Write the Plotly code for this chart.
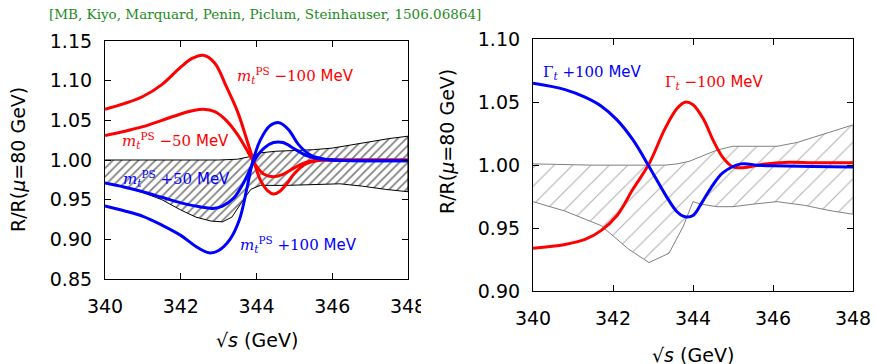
import plotly.graph_objects as go

# ---------------- data: left panel (m_t^PS variations) ----------------
x_red100 = [340, 340.5, 341, 341.5, 342, 342.3, 342.6, 342.9, 343.2, 343.5, 343.8, 343.95, 344.1, 344.3,
            344.45, 344.6, 344.8, 345.0, 345.3, 345.6, 346, 347, 348]
y_red100 = [1.064, 1.071, 1.080, 1.095, 1.117, 1.128, 1.132, 1.122, 1.093, 1.061, 1.017, 0.995, 0.975, 0.961,
            0.957, 0.960, 0.970, 0.983, 0.995, 0.999, 1.000, 1.000, 1.000]

x_red50 = [340, 340.5, 341, 341.5, 342, 342.3, 342.6, 342.9, 343.2, 343.5, 343.8, 344.0, 344.2, 344.45,
           344.7, 345.0, 345.3, 345.6, 346, 347, 348]
y_red50 = [1.031, 1.036, 1.042, 1.050, 1.058, 1.062, 1.064, 1.061, 1.050, 1.032, 1.008, 0.992, 0.982, 0.979,
           0.982, 0.990, 0.997, 1.000, 1.000, 1.000, 1.000]

x_blue50 = [340, 340.5, 341, 341.5, 342, 342.5, 342.85, 343.1, 343.4, 343.7, 343.95, 344.2, 344.45, 344.7,
            345.0, 345.3, 345.6, 346, 347, 348]
y_blue50 = [0.971, 0.966, 0.960, 0.953, 0.946, 0.941, 0.939, 0.942, 0.952, 0.975, 1.000, 1.015, 1.022, 1.022,
            1.014, 1.006, 1.002, 1.000, 0.999, 0.999]

x_blue100 = [340, 340.5, 341, 341.5, 342, 342.4, 342.75, 343.0, 343.3, 343.55, 343.75, 343.9, 344.1, 344.35,
             344.6, 344.85, 345.1, 345.4, 345.7, 346, 347, 348]
y_blue100 = [0.942, 0.936, 0.929, 0.918, 0.905, 0.891, 0.883, 0.886, 0.900, 0.925, 0.965, 0.998, 1.025, 1.043,
             1.047, 1.038, 1.020, 1.007, 1.002, 1.000, 0.999, 0.999]

x_band_l_up = [340, 343.0, 343.5, 343.8, 344.1, 344.5, 345.0, 345.5, 346.0, 346.5, 347.0, 347.5, 348]
y_band_l_up = [1.000, 1.000, 1.001, 1.004, 1.009, 1.011, 1.012, 1.013, 1.015, 1.019, 1.023, 1.027, 1.030]
x_band_l_lo = [340, 340.5, 341, 341.5, 342, 342.4, 342.8, 343.1, 343.35, 343.6, 343.85, 344.1, 344.8, 345.5,
               346.2, 346.8, 347.4, 348]
y_band_l_lo = [0.971, 0.966, 0.959, 0.950, 0.937, 0.928, 0.923, 0.922, 0.928, 0.946, 0.963, 0.968, 0.968, 0.969,
               0.970, 0.967, 0.963, 0.960]

# ---------------- data: right panel (Gamma_t variations) ----------------
x_gplus = [340, 340.8, 341.3, 341.7, 342.1, 342.5, 342.9, 343.3, 343.6, 343.8, 344.0, 344.2, 344.45, 344.75,
           345.2, 345.6, 346, 347, 348]
y_gplus = [1.065, 1.060, 1.054, 1.047, 1.036, 1.020, 0.999, 0.977, 0.963, 0.959, 0.960, 0.969, 0.982, 0.994,
           1.001, 1.000, 0.9995, 0.999, 0.9986]

x_gminus = [340, 340.8, 341.3, 341.7, 342.1, 342.5, 342.9, 343.3, 343.6, 343.8, 344.0, 344.27, 344.5, 344.75,
            345.0, 345.25, 345.75, 346.4, 347, 348]
y_gminus = [0.934, 0.937, 0.941, 0.948, 0.960, 0.981, 1.001, 1.029, 1.045, 1.050, 1.048, 1.036, 1.020, 1.006,
            0.9986, 0.998, 1.0008, 1.0023, 1.002, 1.002]

x_band_r_up = [340, 341.5, 343.3, 343.6, 343.9, 344.2, 344.6, 345.0, 345.6, 346.1, 346.6, 347.0, 347.5, 348]
y_band_r_up = [1.001, 1.000, 1.000, 1.001, 1.003, 1.007, 1.012, 1.015, 1.015, 1.015, 1.018, 1.022, 1.027, 1.032]
x_band_r_lo = [340, 340.8, 341.7, 342.4, 342.9, 343.4, 343.75, 344.0, 344.2, 344.6, 345.0, 345.5, 346.1, 346.8,
               347.4, 348]
y_band_r_lo = [0.971, 0.9635, 0.952, 0.933, 0.9226, 0.930, 0.951, 0.971, 0.969, 0.967, 0.967, 0.969, 0.971, 0.968,
               0.964, 0.961]

x_ticks = [340, 342, 344, 346, 348]
y_ticks_left = [0.85, 0.90, 0.95, 1.00, 1.05, 1.10, 1.15]
y_ticks_right = [0.90, 0.95, 1.00, 1.05, 1.10]

RED = "#ff0000"
BLUE = "#0000ff"
W, H = 875, 364

fig = go.Figure()

# bands
fig.add_trace(go.Scatter(
    x=x_band_l_up + x_band_l_lo[::-1], y=y_band_l_up + y_band_l_lo[::-1],
    fill="toself", mode="lines", line=dict(color="black", width=1),
    fillcolor="white",
    fillpattern=dict(shape="/", fgcolor="black", bgcolor="white", size=6, solidity=0.28),
    xaxis="x", yaxis="y", showlegend=False, hoverinfo="skip"))
fig.add_trace(go.Scatter(
    x=x_band_r_up + x_band_r_lo[::-1], y=y_band_r_up + y_band_r_lo[::-1],
    fill="toself", mode="lines", line=dict(color="#808080", width=1),
    fillcolor="white",
    fillpattern=dict(shape="/", fgcolor="#606060", bgcolor="white", size=13, solidity=0.08),
    xaxis="x2", yaxis="y2", showlegend=False, hoverinfo="skip"))

# left curves
for xs, ys, c in [(x_red100, y_red100, RED), (x_red50, y_red50, RED),
                  (x_blue50, y_blue50, BLUE), (x_blue100, y_blue100, BLUE)]:
    fig.add_trace(go.Scatter(x=xs, y=ys, mode="lines", line=dict(color=c, width=3, shape="spline", smoothing=1.0),
                             xaxis="x", yaxis="y", showlegend=False))
# right curves
for xs, ys, c in [(x_gminus, y_gminus, RED), (x_gplus, y_gplus, BLUE)]:
    fig.add_trace(go.Scatter(x=xs, y=ys, mode="lines", line=dict(color=c, width=3, shape="spline", smoothing=1.0),
                             xaxis="x2", yaxis="y2", showlegend=False))

tickfont = dict(family="DejaVu Sans", size=19, color="black")
axcommon = dict(showline=True, linecolor="black", linewidth=1.2, mirror="ticks", ticks="inside",
                ticklen=6, tickwidth=1, tickcolor="black", showgrid=False, zeroline=False,
                tickfont=tickfont, automargin=False)

fig.update_layout(
    width=W, height=H, margin=dict(l=0, r=0, t=0, b=0, autoexpand=False),
    paper_bgcolor="white", plot_bgcolor="white",
    xaxis=dict(domain=[105 / W, 408 / W], range=[340, 348], tickvals=x_ticks,
               ticktext=[str(v) for v in x_ticks], anchor="y", ticklabelstandoff=10, **axcommon),
    yaxis=dict(domain=[1 - 279 / H, 1 - 41 / H], range=[0.85, 1.15], tickvals=y_ticks_left,
               ticktext=["%.2f" % v for v in y_ticks_left], anchor="x", ticklabelstandoff=8, **axcommon),
    xaxis2=dict(domain=[533 / W, 853 / W], range=[340, 348], tickvals=x_ticks,
                ticktext=[str(v) for v in x_ticks], anchor="y2", ticklabelstandoff=10, **axcommon),
    yaxis2=dict(domain=[1 - 291 / H, 1 - 39.3 / H], range=[0.90, 1.10], tickvals=y_ticks_right,
                ticktext=["%.2f" % v for v in y_ticks_right], anchor="x2", ticklabelstandoff=8, **axcommon),
)

SERIF = "font-family:'DejaVu Serif'"
def mlabel(sign_val):
    return ("<span style=\"%s\"><i>m</i><sub><i>t</i></sub><sup>PS</sup> %s</span> MeV" % (SERIF, sign_val))
def glabel(sign_val):
    return ("<span style=\"%s\">Γ<sub><i>t</i></sub> %s</span> MeV" % (SERIF, sign_val))

annf = dict(family="DejaVu Sans", size=15)
titlef = dict(family="DejaVu Sans", size=19, color="black")
anns = [
    dict(x=345.04, y=1.107, xref="x", yref="y", text=mlabel("−100"), font=dict(color=RED, **annf)),
    dict(x=341.85, y=1.025, xref="x", yref="y", text=mlabel("−50"), font=dict(color=RED, **annf)),
    dict(x=341.9, y=0.977, xref="x", yref="y", text=mlabel("+50"), font=dict(color=BLUE, **annf)),
    dict(x=345.1, y=0.893, xref="x", yref="y", text=mlabel("+100"), font=dict(color=BLUE, **annf)),
    dict(x=341.49, y=1.074, xref="x2", yref="y2", text=glabel("+100"), font=dict(color=BLUE, **annf)),
    dict(x=344.54, y=1.0654, xref="x2", yref="y2", text=glabel("−100"), font=dict(color=RED, **annf)),
    # axis titles
    dict(x=18 / W, y=1 - 160 / H, xref="paper", yref="paper", textangle=-90,
         xanchor="center", yanchor="middle", text="R/R(<i>μ</i>=80 GeV)", font=titlef),
    dict(x=447 / W, y=1 - 142 / H, xref="paper", yref="paper", textangle=-90,
         xanchor="center", yanchor="middle", text="R/R(<i>μ</i>=80 GeV)", font=titlef),
    dict(x=257 / W, y=1 - 340 / H, xref="paper", yref="paper",
         xanchor="center", yanchor="middle", text="√<i>s</i> (GeV)", font=titlef),
    dict(x=693 / W, y=1 - 355 / H, xref="paper", yref="paper",
         xanchor="center", yanchor="middle", text="√<i>s</i> (GeV)", font=titlef),
    # citation
    dict(x=47 / W, y=1 - 14 / H, xref="paper", yref="paper", xanchor="left", yanchor="middle",
         text="[MB, Kiyo, Marquard, Penin, Piclum, Steinhauser, 1506.06864]",
         font=dict(family="DejaVu Serif", size=13.5, color="#228B22")),
]
for a in anns:
    a.setdefault("showarrow", False)
fig.update_layout(annotations=anns)

# white patch clipping the left panel's last tick label, as in the original
fig.add_shape(type="rect", xref="paper", yref="paper", x0=421 / W, x1=440 / W,
              y0=1 - 320 / H, y1=1 - 288 / H, fillcolor="white", line=dict(width=0), layer="above")

fig.write_html("out.html", config={"displayModeBar": False},
               post_script="document.body.style.margin='0px';document.body.style.padding='0px';")
